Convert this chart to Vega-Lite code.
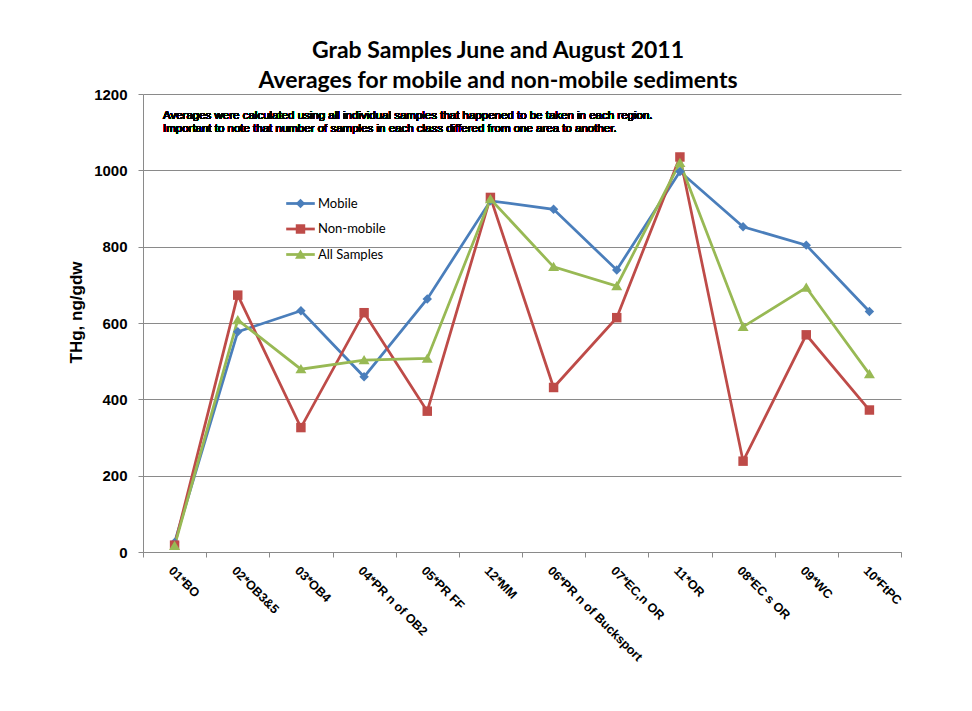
{
  "$schema": "https://vega.github.io/schema/vega-lite/v6.json",
  "autosize": {"type": "none"},
  "width": 758,
  "height": 458,
  "padding": {"left": 143, "top": 94, "right": 71, "bottom": 159},
  "background": "white",
  "config": {
    "view": {"stroke": null},
    "font": "Liberation Sans"
  },
  "title": {
    "text": ["Grab Samples June and August 2011", "Averages for mobile and non-mobile sediments"],
    "font": "Lato",
    "fontSize": 23,
    "fontWeight": "bold",
    "lineHeight": 30,
    "anchor": "middle",
    "dx": -24,
    "offset": -6,
    "color": "#000000"
  },
  "data": {
    "values": [
      {"site": "01*BO", "series": "Mobile", "value": 25},
      {"site": "02*OB3&5", "series": "Mobile", "value": 577},
      {"site": "03*OB4", "series": "Mobile", "value": 632},
      {"site": "04*PR n of OB2", "series": "Mobile", "value": 459},
      {"site": "05*PR FF", "series": "Mobile", "value": 663},
      {"site": "12*MM", "series": "Mobile", "value": 920},
      {"site": "06*PR n of Bucksport", "series": "Mobile", "value": 898},
      {"site": "07*EC,n OR", "series": "Mobile", "value": 739},
      {"site": "11*OR", "series": "Mobile", "value": 997},
      {"site": "08*EC s OR", "series": "Mobile", "value": 852},
      {"site": "09*WC", "series": "Mobile", "value": 804},
      {"site": "10*FtPC", "series": "Mobile", "value": 630},
      {"site": "01*BO", "series": "Non-mobile", "value": 18},
      {"site": "02*OB3&5", "series": "Non-mobile", "value": 673},
      {"site": "03*OB4", "series": "Non-mobile", "value": 326},
      {"site": "04*PR n of OB2", "series": "Non-mobile", "value": 627},
      {"site": "05*PR FF", "series": "Non-mobile", "value": 369},
      {"site": "12*MM", "series": "Non-mobile", "value": 929},
      {"site": "06*PR n of Bucksport", "series": "Non-mobile", "value": 431},
      {"site": "07*EC,n OR", "series": "Non-mobile", "value": 614},
      {"site": "11*OR", "series": "Non-mobile", "value": 1035},
      {"site": "08*EC s OR", "series": "Non-mobile", "value": 238},
      {"site": "09*WC", "series": "Non-mobile", "value": 569},
      {"site": "10*FtPC", "series": "Non-mobile", "value": 372},
      {"site": "01*BO", "series": "All Samples", "value": 16},
      {"site": "02*OB3&5", "series": "All Samples", "value": 608},
      {"site": "03*OB4", "series": "All Samples", "value": 479},
      {"site": "04*PR n of OB2", "series": "All Samples", "value": 503},
      {"site": "05*PR FF", "series": "All Samples", "value": 507},
      {"site": "12*MM", "series": "All Samples", "value": 925},
      {"site": "06*PR n of Bucksport", "series": "All Samples", "value": 747},
      {"site": "07*EC,n OR", "series": "All Samples", "value": 697},
      {"site": "11*OR", "series": "All Samples", "value": 1020},
      {"site": "08*EC s OR", "series": "All Samples", "value": 590},
      {"site": "09*WC", "series": "All Samples", "value": 693},
      {"site": "10*FtPC", "series": "All Samples", "value": 466}
    ]
  },
  "encoding": {
    "x": {
      "field": "site",
      "type": "nominal",
      "sort": ["01*BO", "02*OB3&5", "03*OB4", "04*PR n of OB2", "05*PR FF", "12*MM", "06*PR n of Bucksport", "07*EC,n OR", "11*OR", "08*EC s OR", "09*WC", "10*FtPC"],
      "scale": {"type": "band", "paddingInner": 0, "paddingOuter": 0},
      "axis": {
        "title": null,
        "labelAngle": 45,
        "labelAlign": "left",
        "labelBaseline": "top",
        "labelFont": "Liberation Sans",
        "labelFontWeight": "bold",
        "labelFontSize": 12.5,
        "labelColor": "#000000",
        "labelPadding": 7,
        "labelLimit": 300,
        "tickBand": "extent",
        "tickSize": 5,
        "tickColor": "#8a8a8a",
        "domainColor": "#8a8a8a",
        "grid": false
      }
    },
    "y": {
      "field": "value",
      "type": "quantitative",
      "scale": {"domain": [0, 1200], "nice": false, "zero": true},
      "axis": {
        "title": "THg, ng/gdw",
        "titleFont": "Liberation Sans",
        "titleFontSize": 17,
        "titleFontWeight": "bold",
        "titleColor": "#000000",
        "titleX": -67,
        "titleY": 218,
        "titleAngle": -90,
        "titleBaseline": "middle",
        "titleAlign": "center",
        "values": [0, 200, 400, 600, 800, 1000, 1200],
        "format": "d",
        "labelFont": "Liberation Sans",
        "labelFontWeight": "bold",
        "labelFontSize": 15,
        "labelColor": "#000000",
        "labelPadding": 11,
        "tickSize": 5,
        "tickColor": "#8a8a8a",
        "domainColor": "#8a8a8a",
        "gridColor": "#8a8a8a",
        "grid": true
      }
    }
  },
  "layer": [
    {
      "mark": {"type": "line", "strokeWidth": 2.75},
      "encoding": {
        "stroke": {
          "field": "series",
          "type": "nominal",
          "sort": ["Mobile", "Non-mobile", "All Samples"],
          "scale": {"range": ["#4A7EBB", "#BE4B48", "#98B954"]},
          "legend": {
            "title": null,
            "orient": "none",
            "legendX": 145,
            "legendY": 97,
            "symbolType": "M-1.3,0H1.3",
            "symbolSize": 484,
            "symbolStrokeWidth": 2.75,
            "labelFont": "Lato",
            "labelFontSize": 13,
            "labelColor": "#000000",
            "labelOffset": 5,
            "rowPadding": 5.5
          }
        }
      }
    },
    {
      "mark": {"type": "point", "filled": true, "opacity": 1, "size": 484},
      "encoding": {
        "color": {
          "field": "series",
          "type": "nominal",
          "scale": {"domain": ["Mobile", "Non-mobile", "All Samples"], "range": ["#4A7EBB", "#BE4B48", "#98B954"]},
          "legend": {
            "title": null,
            "orient": "none",
            "legendX": 145,
            "legendY": 97,
            "symbolSize": 484,
            "symbolStrokeWidth": 2.75,
            "labelExpr": "''",
            "labelFont": "Lato",
            "labelFontSize": 13,
            "labelOffset": 5,
            "rowPadding": 5.5
          }
        },
        "shape": {
          "field": "series",
          "type": "nominal",
          "scale": {"domain": ["Mobile", "Non-mobile", "All Samples"], "range": ["M0,-0.43L0.43,0L0,0.43L-0.43,0Z", "M-0.43,-0.43H0.43V0.43H-0.43Z", "M0,-0.46L0.5,0.38H-0.5Z"]},
          "legend": null
        }
      }
    },
    {
      "mark": {
        "type": "text",
        "align": "left",
        "baseline": "top",
        "font": "Arial",
        "fontWeight": 400,
        "fontSize": 11.5,
        "lineHeight": 12.5,
        "dx": -11.6,
        "color": "#000000",
        "text": ["Averages were calculated using all individual samples that happened  to be taken in each region.", "Important to note that number of samples in each class differed from one area to another."]
      },
      "encoding": {
        "x": {"datum": "01*BO"},
        "y": {"datum": 1158}
      }
    }
  ]
}
